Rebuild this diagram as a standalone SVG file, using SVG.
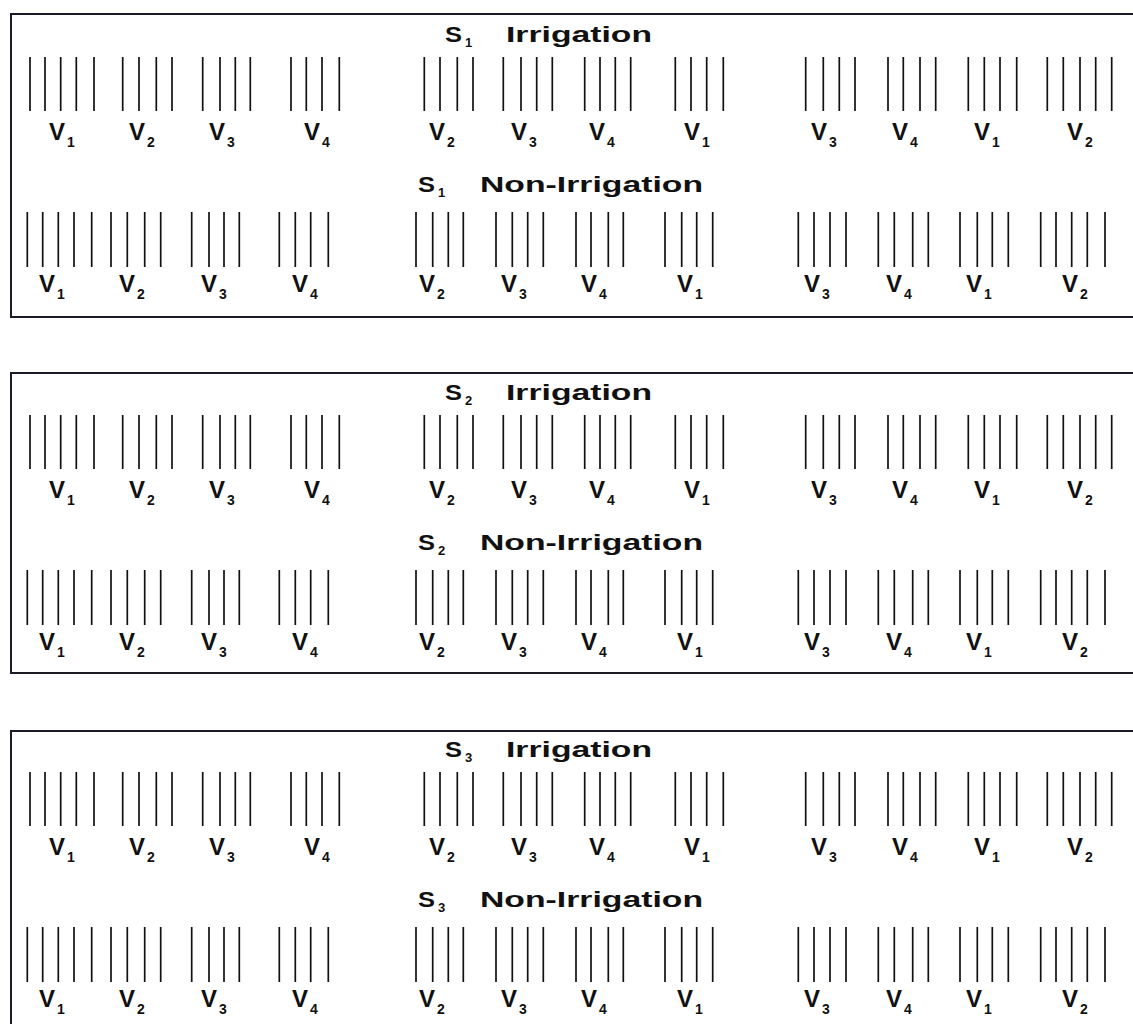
<svg xmlns="http://www.w3.org/2000/svg" width="1133" height="1024" viewBox="0 0 1133 1024">
<style>
.frame{fill:none;stroke:#1a1a28;stroke-width:2}
.pl{fill:none;stroke:#111;stroke-width:1.7}
.v{font-family:"Liberation Sans",Arial,sans-serif;font-weight:bold;font-size:24px;fill:#111}
.s{font-size:14px}
.t{font-family:"Liberation Sans",Arial,sans-serif;font-weight:bold;font-size:22px;fill:#111}
.ts{font-family:"Liberation Sans",Arial,sans-serif;font-weight:bold;font-size:13px;fill:#111}
</style>
<rect width="1133" height="1024" fill="#fff"/>

<g id="panel1">
<rect class="frame" x="11" y="14" width="1140" height="303"/>
<g id="p1-irr">
<text class="t" x="445" y="42" textLength="17" lengthAdjust="spacingAndGlyphs">S</text><text class="ts" x="465" y="47">1</text>
<text class="t" x="506" y="42" textLength="146" lengthAdjust="spacingAndGlyphs">Irrigation</text>
<path class="pl" d="M30 57V111M45 57V111M60.7 57V111M76.3 57V111M94 57V111"/><text class="v" x="49" y="140">V<tspan class="s" dx="2" dy="7">1</tspan></text>
<path class="pl" d="M122.7 57V111M139 57V111M156.3 57V111M172 57V111"/><text class="v" x="129" y="140">V<tspan class="s" dx="2" dy="7">2</tspan></text>
<path class="pl" d="M202.7 57V111M220 57V111M235.3 57V111M250.3 57V111"/><text class="v" x="209" y="140">V<tspan class="s" dx="2" dy="7">3</tspan></text>
<path class="pl" d="M291 57V111M306.3 57V111M322 57V111M339.3 57V111"/><text class="v" x="304" y="140">V<tspan class="s" dx="2" dy="7">4</tspan></text>
<path class="pl" d="M424.3 57V111M440 57V111M457.3 57V111M473 57V111"/><text class="v" x="429" y="140">V<tspan class="s" dx="2" dy="7">2</tspan></text>
<path class="pl" d="M503.3 57V111M521 57V111M536.7 57V111M552.3 57V111"/><text class="v" x="511" y="140">V<tspan class="s" dx="2" dy="7">3</tspan></text>
<path class="pl" d="M584.7 57V111M600 57V111M615.3 57V111M630.7 57V111"/><text class="v" x="589" y="140">V<tspan class="s" dx="2" dy="7">4</tspan></text>
<path class="pl" d="M675.3 57V111M691 57V111M706.7 57V111M723.3 57V111"/><text class="v" x="684" y="140">V<tspan class="s" dx="2" dy="7">1</tspan></text>
<path class="pl" d="M805.7 57V111M823.3 57V111M839.3 57V111M855 57V111"/><text class="v" x="811" y="140">V<tspan class="s" dx="2" dy="7">3</tspan></text>
<path class="pl" d="M888 57V111M903.3 57V111M920 57V111M935.7 57V111"/><text class="v" x="892" y="140">V<tspan class="s" dx="2" dy="7">4</tspan></text>
<path class="pl" d="M968.3 57V111M984.3 57V111M1000 57V111M1016.7 57V111"/><text class="v" x="974" y="140">V<tspan class="s" dx="2" dy="7">1</tspan></text>
<path class="pl" d="M1047.3 57V111M1063.3 57V111M1080 57V111M1095.7 57V111M1111.7 57V111"/><text class="v" x="1067" y="140">V<tspan class="s" dx="2" dy="7">2</tspan></text>
</g>
<g id="p1-non">
<text class="t" x="418" y="192" textLength="17" lengthAdjust="spacingAndGlyphs">S</text><text class="ts" x="438" y="197">1</text>
<text class="t" x="480" y="192" textLength="223" lengthAdjust="spacingAndGlyphs">Non-Irrigation</text>
<path class="pl" d="M27.3 212V267M42.7 212V267M58.3 212V267M74 212V267M91.7 212V267"/><text class="v" x="39" y="292">V<tspan class="s" dx="2" dy="7">1</tspan></text>
<path class="pl" d="M111 212V267M127.3 212V267M144.7 212V267M160.7 212V267"/><text class="v" x="119" y="292">V<tspan class="s" dx="2" dy="7">2</tspan></text>
<path class="pl" d="M191.7 212V267M209 212V267M224 212V267M239.3 212V267"/><text class="v" x="201" y="292">V<tspan class="s" dx="2" dy="7">3</tspan></text>
<path class="pl" d="M279.3 212V267M295.3 212V267M310.7 212V267M328.3 212V267"/><text class="v" x="292" y="292">V<tspan class="s" dx="2" dy="7">4</tspan></text>
<path class="pl" d="M416 212V267M432.7 212V267M448.3 212V267M463.3 212V267"/><text class="v" x="419" y="292">V<tspan class="s" dx="2" dy="7">2</tspan></text>
<path class="pl" d="M496 212V267M512.3 212V267M527.7 212V267M543.3 212V267"/><text class="v" x="501" y="292">V<tspan class="s" dx="2" dy="7">3</tspan></text>
<path class="pl" d="M576 212V267M591 212V267M608.3 212V267M623.3 212V267"/><text class="v" x="581" y="292">V<tspan class="s" dx="2" dy="7">4</tspan></text>
<path class="pl" d="M665 212V267M681.7 212V267M696.7 212V267M712.7 212V267"/><text class="v" x="677" y="292">V<tspan class="s" dx="2" dy="7">1</tspan></text>
<path class="pl" d="M798.3 212V267M814 212V267M830 212V267M846 212V267"/><text class="v" x="804" y="292">V<tspan class="s" dx="2" dy="7">3</tspan></text>
<path class="pl" d="M878.3 212V267M894.3 212V267M912.7 212V267M928.3 212V267"/><text class="v" x="886" y="292">V<tspan class="s" dx="2" dy="7">4</tspan></text>
<path class="pl" d="M960 212V267M977.3 212V267M992.3 212V267M1008.3 212V267"/><text class="v" x="966" y="292">V<tspan class="s" dx="2" dy="7">1</tspan></text>
<path class="pl" d="M1040.7 212V267M1056 212V267M1071.7 212V267M1087.3 212V267M1105 212V267"/><text class="v" x="1062" y="292">V<tspan class="s" dx="2" dy="7">2</tspan></text>
</g>
</g>

<g id="panel2" transform="translate(0,358)">
<rect class="frame" x="11" y="15" width="1140" height="300"/>
<g id="p2-irr">
<text class="t" x="445" y="42" textLength="17" lengthAdjust="spacingAndGlyphs">S</text><text class="ts" x="465" y="47">2</text>
<text class="t" x="506" y="42" textLength="146" lengthAdjust="spacingAndGlyphs">Irrigation</text>
<path class="pl" d="M30 57V111M45 57V111M60.7 57V111M76.3 57V111M94 57V111"/><text class="v" x="49" y="140">V<tspan class="s" dx="2" dy="7">1</tspan></text>
<path class="pl" d="M122.7 57V111M139 57V111M156.3 57V111M172 57V111"/><text class="v" x="129" y="140">V<tspan class="s" dx="2" dy="7">2</tspan></text>
<path class="pl" d="M202.7 57V111M220 57V111M235.3 57V111M250.3 57V111"/><text class="v" x="209" y="140">V<tspan class="s" dx="2" dy="7">3</tspan></text>
<path class="pl" d="M291 57V111M306.3 57V111M322 57V111M339.3 57V111"/><text class="v" x="304" y="140">V<tspan class="s" dx="2" dy="7">4</tspan></text>
<path class="pl" d="M424.3 57V111M440 57V111M457.3 57V111M473 57V111"/><text class="v" x="429" y="140">V<tspan class="s" dx="2" dy="7">2</tspan></text>
<path class="pl" d="M503.3 57V111M521 57V111M536.7 57V111M552.3 57V111"/><text class="v" x="511" y="140">V<tspan class="s" dx="2" dy="7">3</tspan></text>
<path class="pl" d="M584.7 57V111M600 57V111M615.3 57V111M630.7 57V111"/><text class="v" x="589" y="140">V<tspan class="s" dx="2" dy="7">4</tspan></text>
<path class="pl" d="M675.3 57V111M691 57V111M706.7 57V111M723.3 57V111"/><text class="v" x="684" y="140">V<tspan class="s" dx="2" dy="7">1</tspan></text>
<path class="pl" d="M805.7 57V111M823.3 57V111M839.3 57V111M855 57V111"/><text class="v" x="811" y="140">V<tspan class="s" dx="2" dy="7">3</tspan></text>
<path class="pl" d="M888 57V111M903.3 57V111M920 57V111M935.7 57V111"/><text class="v" x="892" y="140">V<tspan class="s" dx="2" dy="7">4</tspan></text>
<path class="pl" d="M968.3 57V111M984.3 57V111M1000 57V111M1016.7 57V111"/><text class="v" x="974" y="140">V<tspan class="s" dx="2" dy="7">1</tspan></text>
<path class="pl" d="M1047.3 57V111M1063.3 57V111M1080 57V111M1095.7 57V111M1111.7 57V111"/><text class="v" x="1067" y="140">V<tspan class="s" dx="2" dy="7">2</tspan></text>
</g>
<g id="p2-non">
<text class="t" x="418" y="192" textLength="17" lengthAdjust="spacingAndGlyphs">S</text><text class="ts" x="438" y="197">2</text>
<text class="t" x="480" y="192" textLength="223" lengthAdjust="spacingAndGlyphs">Non-Irrigation</text>
<path class="pl" d="M27.3 212V267M42.7 212V267M58.3 212V267M74 212V267M91.7 212V267"/><text class="v" x="39" y="292">V<tspan class="s" dx="2" dy="7">1</tspan></text>
<path class="pl" d="M111 212V267M127.3 212V267M144.7 212V267M160.7 212V267"/><text class="v" x="119" y="292">V<tspan class="s" dx="2" dy="7">2</tspan></text>
<path class="pl" d="M191.7 212V267M209 212V267M224 212V267M239.3 212V267"/><text class="v" x="201" y="292">V<tspan class="s" dx="2" dy="7">3</tspan></text>
<path class="pl" d="M279.3 212V267M295.3 212V267M310.7 212V267M328.3 212V267"/><text class="v" x="292" y="292">V<tspan class="s" dx="2" dy="7">4</tspan></text>
<path class="pl" d="M416 212V267M432.7 212V267M448.3 212V267M463.3 212V267"/><text class="v" x="419" y="292">V<tspan class="s" dx="2" dy="7">2</tspan></text>
<path class="pl" d="M496 212V267M512.3 212V267M527.7 212V267M543.3 212V267"/><text class="v" x="501" y="292">V<tspan class="s" dx="2" dy="7">3</tspan></text>
<path class="pl" d="M576 212V267M591 212V267M608.3 212V267M623.3 212V267"/><text class="v" x="581" y="292">V<tspan class="s" dx="2" dy="7">4</tspan></text>
<path class="pl" d="M665 212V267M681.7 212V267M696.7 212V267M712.7 212V267"/><text class="v" x="677" y="292">V<tspan class="s" dx="2" dy="7">1</tspan></text>
<path class="pl" d="M798.3 212V267M814 212V267M830 212V267M846 212V267"/><text class="v" x="804" y="292">V<tspan class="s" dx="2" dy="7">3</tspan></text>
<path class="pl" d="M878.3 212V267M894.3 212V267M912.7 212V267M928.3 212V267"/><text class="v" x="886" y="292">V<tspan class="s" dx="2" dy="7">4</tspan></text>
<path class="pl" d="M960 212V267M977.3 212V267M992.3 212V267M1008.3 212V267"/><text class="v" x="966" y="292">V<tspan class="s" dx="2" dy="7">1</tspan></text>
<path class="pl" d="M1040.7 212V267M1056 212V267M1071.7 212V267M1087.3 212V267M1105 212V267"/><text class="v" x="1062" y="292">V<tspan class="s" dx="2" dy="7">2</tspan></text>
</g>
</g>

<g id="panel3" transform="translate(0,715)">
<rect class="frame" x="11" y="16" width="1140" height="340"/>
<g id="p3-irr">
<text class="t" x="445" y="42" textLength="17" lengthAdjust="spacingAndGlyphs">S</text><text class="ts" x="465" y="47">3</text>
<text class="t" x="506" y="42" textLength="146" lengthAdjust="spacingAndGlyphs">Irrigation</text>
<path class="pl" d="M30 57V111M45 57V111M60.7 57V111M76.3 57V111M94 57V111"/><text class="v" x="49" y="140">V<tspan class="s" dx="2" dy="7">1</tspan></text>
<path class="pl" d="M122.7 57V111M139 57V111M156.3 57V111M172 57V111"/><text class="v" x="129" y="140">V<tspan class="s" dx="2" dy="7">2</tspan></text>
<path class="pl" d="M202.7 57V111M220 57V111M235.3 57V111M250.3 57V111"/><text class="v" x="209" y="140">V<tspan class="s" dx="2" dy="7">3</tspan></text>
<path class="pl" d="M291 57V111M306.3 57V111M322 57V111M339.3 57V111"/><text class="v" x="304" y="140">V<tspan class="s" dx="2" dy="7">4</tspan></text>
<path class="pl" d="M424.3 57V111M440 57V111M457.3 57V111M473 57V111"/><text class="v" x="429" y="140">V<tspan class="s" dx="2" dy="7">2</tspan></text>
<path class="pl" d="M503.3 57V111M521 57V111M536.7 57V111M552.3 57V111"/><text class="v" x="511" y="140">V<tspan class="s" dx="2" dy="7">3</tspan></text>
<path class="pl" d="M584.7 57V111M600 57V111M615.3 57V111M630.7 57V111"/><text class="v" x="589" y="140">V<tspan class="s" dx="2" dy="7">4</tspan></text>
<path class="pl" d="M675.3 57V111M691 57V111M706.7 57V111M723.3 57V111"/><text class="v" x="684" y="140">V<tspan class="s" dx="2" dy="7">1</tspan></text>
<path class="pl" d="M805.7 57V111M823.3 57V111M839.3 57V111M855 57V111"/><text class="v" x="811" y="140">V<tspan class="s" dx="2" dy="7">3</tspan></text>
<path class="pl" d="M888 57V111M903.3 57V111M920 57V111M935.7 57V111"/><text class="v" x="892" y="140">V<tspan class="s" dx="2" dy="7">4</tspan></text>
<path class="pl" d="M968.3 57V111M984.3 57V111M1000 57V111M1016.7 57V111"/><text class="v" x="974" y="140">V<tspan class="s" dx="2" dy="7">1</tspan></text>
<path class="pl" d="M1047.3 57V111M1063.3 57V111M1080 57V111M1095.7 57V111M1111.7 57V111"/><text class="v" x="1067" y="140">V<tspan class="s" dx="2" dy="7">2</tspan></text>
</g>
<g id="p3-non">
<text class="t" x="418" y="192" textLength="17" lengthAdjust="spacingAndGlyphs">S</text><text class="ts" x="438" y="197">3</text>
<text class="t" x="480" y="192" textLength="223" lengthAdjust="spacingAndGlyphs">Non-Irrigation</text>
<path class="pl" d="M27.3 212V267M42.7 212V267M58.3 212V267M74 212V267M91.7 212V267"/><text class="v" x="39" y="292">V<tspan class="s" dx="2" dy="7">1</tspan></text>
<path class="pl" d="M111 212V267M127.3 212V267M144.7 212V267M160.7 212V267"/><text class="v" x="119" y="292">V<tspan class="s" dx="2" dy="7">2</tspan></text>
<path class="pl" d="M191.7 212V267M209 212V267M224 212V267M239.3 212V267"/><text class="v" x="201" y="292">V<tspan class="s" dx="2" dy="7">3</tspan></text>
<path class="pl" d="M279.3 212V267M295.3 212V267M310.7 212V267M328.3 212V267"/><text class="v" x="292" y="292">V<tspan class="s" dx="2" dy="7">4</tspan></text>
<path class="pl" d="M416 212V267M432.7 212V267M448.3 212V267M463.3 212V267"/><text class="v" x="419" y="292">V<tspan class="s" dx="2" dy="7">2</tspan></text>
<path class="pl" d="M496 212V267M512.3 212V267M527.7 212V267M543.3 212V267"/><text class="v" x="501" y="292">V<tspan class="s" dx="2" dy="7">3</tspan></text>
<path class="pl" d="M576 212V267M591 212V267M608.3 212V267M623.3 212V267"/><text class="v" x="581" y="292">V<tspan class="s" dx="2" dy="7">4</tspan></text>
<path class="pl" d="M665 212V267M681.7 212V267M696.7 212V267M712.7 212V267"/><text class="v" x="677" y="292">V<tspan class="s" dx="2" dy="7">1</tspan></text>
<path class="pl" d="M798.3 212V267M814 212V267M830 212V267M846 212V267"/><text class="v" x="804" y="292">V<tspan class="s" dx="2" dy="7">3</tspan></text>
<path class="pl" d="M878.3 212V267M894.3 212V267M912.7 212V267M928.3 212V267"/><text class="v" x="886" y="292">V<tspan class="s" dx="2" dy="7">4</tspan></text>
<path class="pl" d="M960 212V267M977.3 212V267M992.3 212V267M1008.3 212V267"/><text class="v" x="966" y="292">V<tspan class="s" dx="2" dy="7">1</tspan></text>
<path class="pl" d="M1040.7 212V267M1056 212V267M1071.7 212V267M1087.3 212V267M1105 212V267"/><text class="v" x="1062" y="292">V<tspan class="s" dx="2" dy="7">2</tspan></text>
</g>
</g>
</svg>
